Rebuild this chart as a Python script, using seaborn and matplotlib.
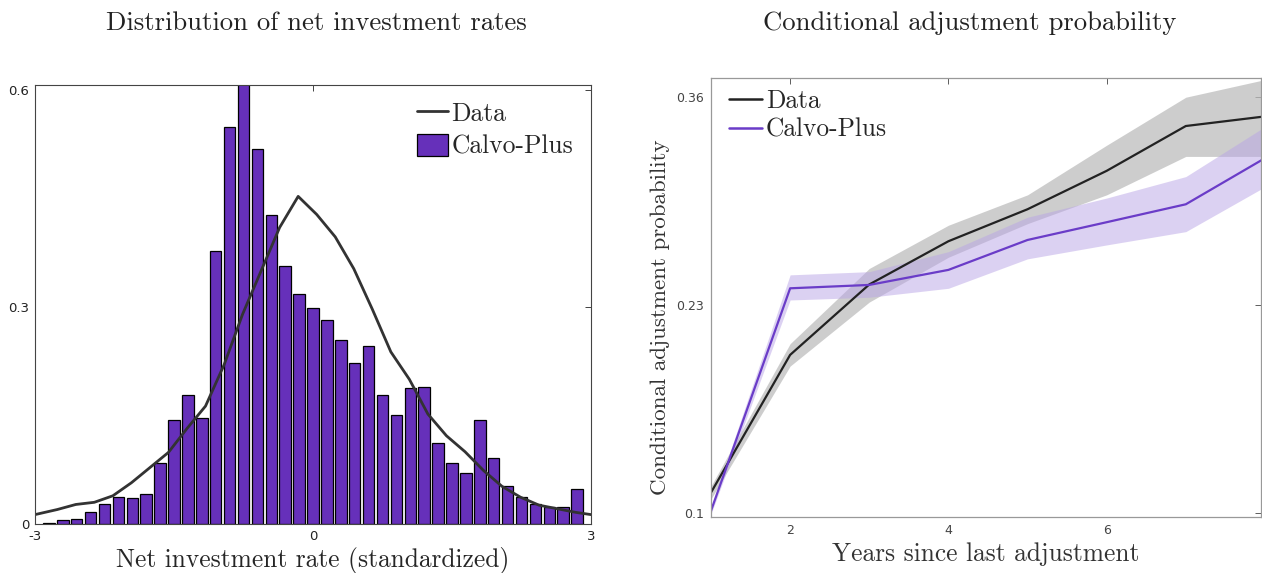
import numpy as np
import pandas as pd
import matplotlib
matplotlib.use("Agg")
import matplotlib.pyplot as plt
from matplotlib.lines import Line2D
from matplotlib.patches import Patch
import seaborn as sns

# --- left panel: histogram of net investment rates --------------------------
bin_centers = np.round(np.arange(-2.85, 2.86, 0.15), 2)
calvo_heights = [0.002, 0.0055, 0.007, 0.016, 0.027, 0.038, 0.036, 0.042, 0.085,
                 0.144, 0.178, 0.146, 0.377, 0.549, 0.62, 0.519, 0.427, 0.357,
                 0.318, 0.299, 0.282, 0.254, 0.223, 0.246, 0.178, 0.151, 0.188,
                 0.189, 0.112, 0.085, 0.070, 0.144, 0.091, 0.0525, 0.037, 0.028,
                 0.023, 0.024, 0.048]

data_x = [-3.0, -2.76, -2.56, -2.36, -2.16, -1.96, -1.76, -1.56, -1.36, -1.16,
          -0.96, -0.76, -0.56, -0.36, -0.16, 0.04, 0.24, 0.44, 0.64, 0.84,
          1.04, 1.24, 1.44, 1.64, 1.84, 2.04, 2.24, 2.44, 2.64, 2.84, 3.0]
data_y = [0.013, 0.020, 0.027, 0.030, 0.039, 0.057, 0.078, 0.099, 0.132, 0.163,
          0.220, 0.290, 0.350, 0.410, 0.453, 0.428, 0.397, 0.353, 0.297, 0.238,
          0.200, 0.152, 0.122, 0.100, 0.074, 0.052, 0.037, 0.026, 0.021, 0.016,
          0.013]

# --- right panel: conditional adjustment probability ------------------------
years = [1, 2, 3, 4, 5, 6, 7, 8]
data_prob = [0.113, 0.199, 0.243, 0.270, 0.290, 0.314, 0.342, 0.348]
data_lo = [0.109, 0.192, 0.232, 0.260, 0.281, 0.299, 0.323, 0.323]
data_hi = [0.117, 0.206, 0.253, 0.280, 0.299, 0.330, 0.360, 0.371]
calvo_prob = [0.1016, 0.2406, 0.2427, 0.2521, 0.2708, 0.2819, 0.2931, 0.3219]
calvo_lo = [0.0996, 0.2333, 0.2350, 0.2406, 0.2590, 0.2677, 0.2760, 0.3040]
calvo_hi = [0.1036, 0.2490, 0.2510, 0.2635, 0.2850, 0.2970, 0.3104, 0.3416]

PURPLE = "#6630ba"
LINE_PURPLE = "#6a3cc8"
DARK = "#333333"
serif = "cmr10"

sns.set_style("white")
plt.rcParams["axes.unicode_minus"] = False
plt.rcParams["font.family"] = ["DejaVu Sans"]

fig = plt.figure(figsize=(12.62, 5.73), dpi=100)
W, H = 1262, 573
ax1 = fig.add_axes([35 / W, (H - 524) / H, 556 / W, (524 - 85) / H])
ax2 = fig.add_axes([711 / W, (H - 517) / H, 550 / W, (517 - 78) / H])

# ─── Left panel ──────────────────────────────────────────────────────────────
hist_df = pd.DataFrame({"x": bin_centers, "h": calvo_heights})
sns.barplot(data=hist_df, x="x", y="h", native_scale=True, width=0.83,
            color=PURPLE, saturation=1, edgecolor="black", linewidth=0.9, ax=ax1)
line_df = pd.DataFrame({"x": data_x, "y": data_y})
sns.lineplot(data=line_df, x="x", y="y", color=DARK, linewidth=2.0, ax=ax1)

ax1.set_xlim(-3, 3)
ax1.set_ylim(0, 0.607)
ax1.set_xticks([-3, 0, 3])
ax1.set_xticklabels(["-3", "0", "3"])
ax1.set_yticks([0, 0.3, 0.6])
ax1.set_yticklabels(["0", "0.3", "0.6"])
ax1.set_ylabel("")
ax1.set_xlabel("Net investment rate (standardized)", family=serif, fontsize=18.3,
               labelpad=3)
ax1.tick_params(direction="in", length=4, width=0.6, labelsize=9.5, top=True,
                right=True, labeltop=False, labelright=False, colors="#222222",
                pad=4)
for s in ax1.spines.values():
    s.set_color("#444444")
    s.set_linewidth(0.8)

handles1 = [Line2D([], [], color=DARK, linewidth=2.0),
            Patch(facecolor=PURPLE, edgecolor="black", linewidth=0.9)]
ax1.legend(handles1, ["Data", "Calvo-Plus"], loc="upper right", frameon=False,
           prop={"family": serif, "size": 18.4}, handlelength=1.2,
           handleheight=1.0, handletextpad=0.15, borderaxespad=0.3,
           labelspacing=0.3, bbox_to_anchor=(1.0, 1.005))

# ─── Right panel ─────────────────────────────────────────────────────────────
ax2.fill_between(years, data_lo, data_hi, color="#bdbdbd", alpha=0.75,
                 linewidth=0)
ax2.fill_between(years, calvo_lo, calvo_hi, color="#b9a4e6", alpha=0.5,
                 linewidth=0)
prob_df = pd.DataFrame({"year": years * 2,
                        "prob": data_prob + calvo_prob,
                        "series": ["Data"] * 8 + ["Calvo-Plus"] * 8})
sns.lineplot(data=prob_df, x="year", y="prob", hue="series",
             palette={"Data": "#222222", "Calvo-Plus": LINE_PURPLE},
             linewidth=1.6, ax=ax2, legend=False)

ax2.set_xlim(1, 7.95)
ax2.set_ylim(0.0977, 0.372)
ax2.set_xticks([2, 4, 6])
ax2.set_yticks([0.1, 0.23, 0.36])
ax2.set_yticklabels(["0.1", "0.23", "0.36"])
ax2.set_xlabel("Years since last adjustment", family=serif, fontsize=18.3,
               color="#333333", labelpad=4)
ax2.set_ylabel("Conditional adjustment probability", family=serif, fontsize=16.6,
               color="#333333")
ax2.yaxis.set_label_coords(-0.075, 0.456)
ax2.tick_params(direction="in", length=4, width=0.6, labelsize=9, top=True,
                right=True, labeltop=False, labelright=False, colors="#444444",
                pad=5)
for s in ax2.spines.values():
    s.set_color("#999999")
    s.set_linewidth(0.9)

handles2 = [Line2D([], [], color="#222222", linewidth=1.8),
            Line2D([], [], color=LINE_PURPLE, linewidth=1.8)]
ax2.legend(handles2, ["Data", "Calvo-Plus"], loc="upper left", frameon=False,
           prop={"family": serif, "size": 18.3}, handlelength=1.3,
           handletextpad=0.15, borderaxespad=0.3, labelspacing=0.2,
           bbox_to_anchor=(0.0, 1.015))

# ─── Titles ──────────────────────────────────────────────────────────────────
fig.text(316 / W, 1 - 23 / H, "Distribution of net investment rates",
         family=serif, fontsize=19.2, ha="center", va="center", color="#222222")
fig.text(970 / W, 1 - 23 / H, "Conditional adjustment probability",
         family=serif, fontsize=19.2, ha="center", va="center", color="#222222")

fig.savefig("out.png", dpi=100)
